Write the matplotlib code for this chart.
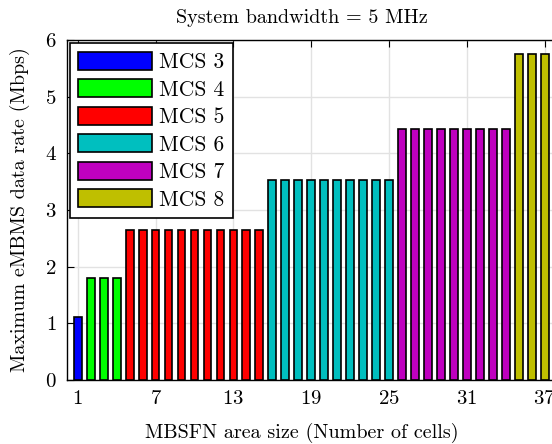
import numpy as np
import matplotlib
matplotlib.use('Agg')
import matplotlib.pyplot as plt

plt.rcParams['font.family'] = 'serif'
plt.rcParams['font.serif'] = ['cmr10']
plt.rcParams['mathtext.fontset'] = 'cm'
plt.rcParams['axes.formatter.use_mathtext'] = True

# tasa maxima por MCS y rango de tamaños de area (celdas)
mcs = [3, 4, 5, 6, 7, 8]
tasas = [1.12, 1.80, 2.65, 3.53, 4.43, 5.76]
celda_ini = [1, 2, 5, 16, 26, 35]
celda_fin = [1, 4, 15, 25, 34, 37]
colores = [(0, 0, 1), (0, 1, 0), (1, 0, 0),
           (0, 0.75, 0.75), (0.75, 0, 0.75), (0.75, 0.75, 0)]
xticks = [1, 7, 13, 19, 25, 31, 37]

fig = plt.figure(figsize=(5.52, 4.44), dpi=100)
# el eje derecho queda fuera de la figura
ax = fig.add_axes([66.5/552, 64/444, 495/552, 340/444])

for m, t, a, b, c in zip(mcs, tasas, celda_ini, celda_fin, colores):
    x = np.arange(a, b + 1)
    ax.bar(x, np.full(len(x), t), width=0.6, color=c, edgecolor='black',
           linewidth=1.2, label=f'MCS {m}', zorder=3)

ax.set_xlim(0.13, 38.3)
ax.set_ylim(0, 6)
ax.set_xticks(xticks)
ax.set_yticks(range(0, 7))
ax.grid(True, color='#e2e2e2', linewidth=1.0, zorder=0)
ax.tick_params(direction='in', top=True, right=True, length=5,
               labelsize=15, pad=7)
for s in ax.spines.values():
    s.set_linewidth(1.0)

# titulos centrados sobre la parte visible del eje
ax.set_title('System bandwidth = 5 MHz', fontsize=14.5, pad=12, x=0.475)
ax.set_xlabel('MBSFN area size (Number of cells)', fontsize=14.5, labelpad=11)
ax.xaxis.set_label_coords(0.475, -0.125)
ax.set_ylabel('Maximum eMBMS data rate (Mbps)', fontsize=14.5, labelpad=11)

leg = ax.legend(loc='upper left', fontsize=15.5, handlelength=3.4,
                handleheight=0.9, handletextpad=0.35, labelspacing=0.33,
                borderpad=0.4, borderaxespad=0.15, fancybox=False,
                framealpha=1, edgecolor='black')
leg.get_frame().set_linewidth(1.2)

fig.savefig('out.png', dpi=100)
